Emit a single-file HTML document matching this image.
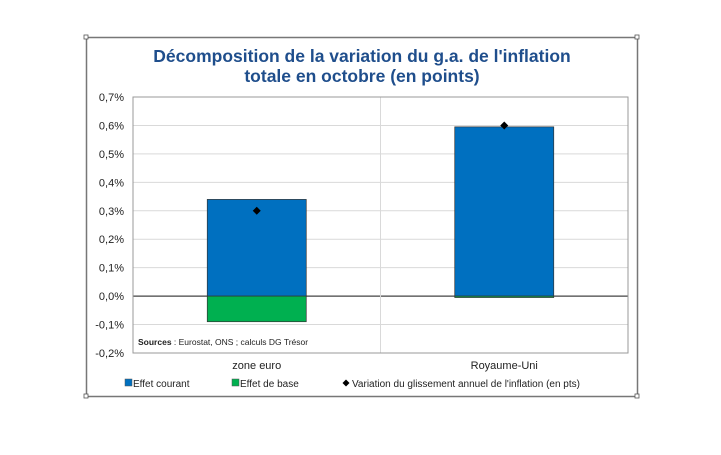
<!DOCTYPE html>
<html><head><meta charset="utf-8"><style>
body{margin:0;background:#fff;width:721px;height:450px;overflow:hidden;font-family:"Liberation Sans",sans-serif}
</style></head><body>
<svg width="721" height="450" font-family="Liberation Sans, sans-serif">
<rect x="86.5" y="37.5" width="551" height="359" fill="#fff" stroke="#777" stroke-width="1.5"/>
<g fill="#fff" stroke="#555" stroke-width="0.8">
<rect x="84" y="35" width="4" height="4"/><rect x="635" y="35" width="4" height="4"/><rect x="84" y="394" width="4" height="4"/><rect x="635" y="394" width="4" height="4"/></g>
<text x="362" y="62" text-anchor="middle" font-size="17.5" font-weight="bold" fill="#1f4e8c">Décomposition de la variation du g.a. de l'inflation</text>
<text x="362" y="82" text-anchor="middle" font-size="17.5" font-weight="bold" fill="#1f4e8c">totale en octobre (en points)</text>
<g id="grid"></g><g id="bars"></g>
<text x="138" y="345" font-size="8.5" fill="#222"><tspan font-weight="bold">Sources</tspan> : Eurostat, ONS ; calculs DG Trésor</text>
<g font-size="10" fill="#222">
<rect x="125" y="379" width="7" height="7" fill="#0070c0" stroke="#555" stroke-width="0.5"/>
<text x="133" y="387">Effet courant</text>
<rect x="232" y="379" width="7" height="7" fill="#00b050" stroke="#555" stroke-width="0.5"/>
<text x="240" y="387">Effet de base</text>
<path d="M346 379.5 L349.5 383 L346 386.5 L342.5 383Z" fill="#000"/>
<text x="352" y="387">Variation du glissement annuel de l'inflation (en pts)</text>
</g>
</svg>
<script>
const categories=["zone euro","Royaume-Uni"];
const effetCourant=[0.34,0.595];
const effetBase=[-0.09,-0.005];
const variation=[0.30,0.60];
const yTicks=[-0.2,-0.1,0,0.1,0.2,0.3,0.4,0.5,0.6,0.7];
const NS="http://www.w3.org/2000/svg";
const L=133,R=628,T=97,B=353,yMin=-0.2,yMax=0.7;
const y=v=>B-(v-yMin)/(yMax-yMin)*(B-T);
const bw=(R-L)/categories.length;
const xc=i=>L+bw*(i+0.5);
function mk(tag,attrs,parent){const e=document.createElementNS(NS,tag);for(const k in attrs)e.setAttribute(k,attrs[k]);parent.appendChild(e);return e;}
const g=document.getElementById('grid'),b=document.getElementById('bars');
yTicks.forEach(t=>{
 const l=mk('line',{x1:L,x2:R,y1:y(t),y2:y(t),stroke:t===0?'#444':'#d9d9d9','stroke-width':t===0?1.2:1},g);
 
 
 const tx=mk('text',{x:L-9,y:y(t)+4,'text-anchor':'end','font-size':11,fill:'#222'},g);
 tx.textContent=t.toFixed(1).replace('.',',')+'%';
 
 
});
const dv=mk('line',{x1:L+bw,x2:L+bw,y1:T,y2:B,stroke:'#d9d9d9'},g);


const fr=mk('rect',{x:L,y:T,width:R-L,height:B-T,fill:'none',stroke:'#999'},g);


categories.forEach((c,i)=>{
 const x0=xc(i)-bw*0.2;const w=bw*0.4;
 const r1=mk('rect',{x:x0,y:y(effetCourant[i]),width:w,height:y(0)-y(effetCourant[i]),fill:'#0070c0',stroke:'#333','stroke-width':0.7},b);
 
 
 const r2=mk('rect',{x:x0,y:y(0),width:w,height:y(effetBase[i])-y(0),fill:'#00b050',stroke:'#333','stroke-width':0.7},b);
 
 
 const yy=y(variation[i]),xx=xc(i);
 const d=mk('path',{d:`M${xx} ${yy-4}L${xx+4} ${yy}L${xx} ${yy+4}L${xx-4} ${yy}Z`,fill:'#000'},b);
 
 
 const tx=mk('text',{x:xx,y:369,'text-anchor':'middle','font-size':11,fill:'#222'},b);
 tx.textContent=c;
 
 
});
</script>
</body></html>
